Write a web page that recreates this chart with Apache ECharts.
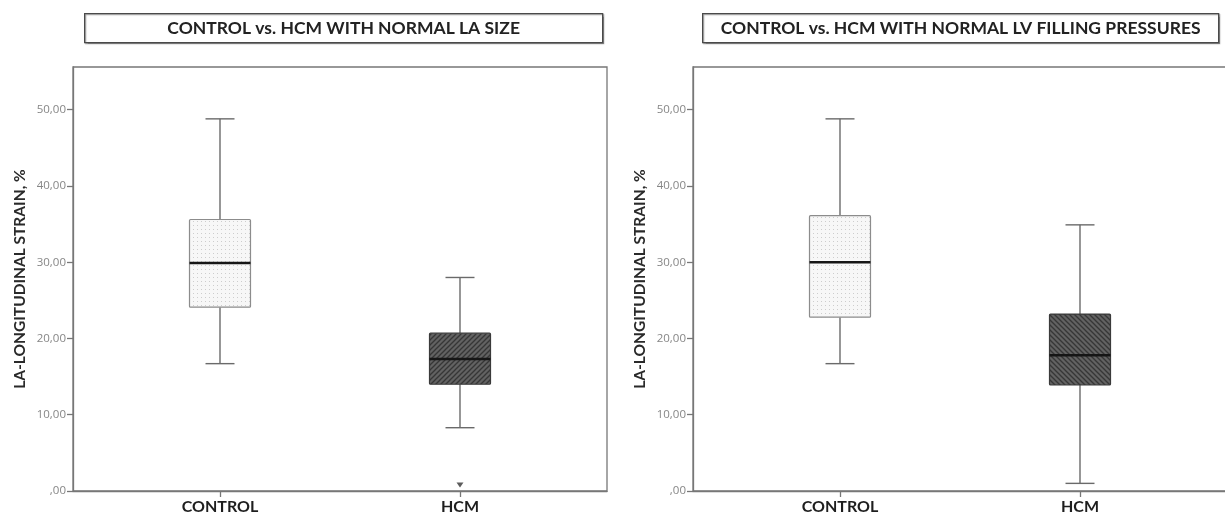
<!DOCTYPE html>
<html>
<head>
<meta charset="utf-8">
<script src="https://cdn.jsdelivr.net/npm/echarts@6/dist/echarts.min.js"></script>
<style>
  html, body { margin: 0; padding: 0; background: #fff; }
  #chart { width: 1225px; height: 519px; }
</style>
</head>
<body>
<div id="chart"></div>
<script>
var categories = ['CONTROL', 'HCM'];
var panelTitles = ['CONTROL vs. HCM WITH NORMAL LA SIZE', 'CONTROL vs. HCM WITH NORMAL LV FILLING PRESSURES'];
var yName = 'LA-LONGITUDINAL STRAIN, %';
var yTicks = [0, 10, 20, 30, 40, 50];
// [min, Q1, median, Q3, max] per category
var laSizeBoxes = [[16.7, 24.1, 29.9, 35.6, 48.8], [8.3, 14.0, 17.3, 20.7, 28.0]];
var lvPressureBoxes = [[16.7, 22.8, 30.0, 36.1, 48.8], [1.0, 13.9, 17.8, 23.2, 34.9]];
// [category, value]
var laSizeOutliers = [['HCM', 0.8]];
var lvPressureOutliers = [];

(function() {
  var frame = '#777777';
  var font = 'Lato';

  function makePattern(w, h, bg, draw) {
    var c = document.createElement('canvas');
    c.width = w; c.height = h;
    var g = c.getContext('2d');
    g.fillStyle = bg;
    g.fillRect(0, 0, w, h);
    draw(g);
    return { image: c, repeat: 'repeat' };
  }
  var dots = makePattern(4, 4, '#f7f7f7', function(g) {
    g.fillStyle = '#cdcdcd';
    g.fillRect(1, 1, 1, 1);
  });
  function hatch(dir) {
    return makePattern(5, 5, '#626262', function(g) {
      g.strokeStyle = '#363636';
      g.lineWidth = 1.3;
      g.beginPath();
      if (dir > 0) {
        g.moveTo(-1, 6); g.lineTo(6, -1);
        g.moveTo(-1, 1); g.lineTo(1, -1);
        g.moveTo(4, 6); g.lineTo(6, 4);
      } else {
        g.moveTo(-1, -1); g.lineTo(6, 6);
        g.moveTo(-1, 4); g.lineTo(1, 6);
        g.moveTo(4, -1); g.lineTo(6, 1);
      }
      g.stroke();
    });
  }
  var hatches = [hatch(1), hatch(-1)];

  function line(x1, y1, x2, y2, color, width) {
    return { type: 'line', shape: { x1: x1, y1: y1, x2: x2, y2: y2 },
      style: { stroke: color, lineWidth: width } };
  }

  function boxRenderer(panel) {
    return function(params, api) {
      var x = api.value(0);
      var pMin = api.coord([x, api.value(1)]);
      var pQ1 = api.coord([x, api.value(2)]);
      var pMed = api.coord([x, api.value(3)]);
      var pQ3 = api.coord([x, api.value(4)]);
      var pMax = api.coord([x, api.value(5)]);
      var cx = pMed[0], half = 30.5, cap = 14.5;
      var dark = params.dataIndex === 1;
      var wc = '#6a6a6a';
      return {
        type: 'group',
        children: [
          line(cx, pMax[1], cx, pQ3[1], wc, 1.4),
          line(cx, pQ1[1], cx, pMin[1], wc, 1.4),
          line(cx - cap, pMax[1], cx + cap, pMax[1], wc, 1.4),
          line(cx - cap, pMin[1], cx + cap, pMin[1], wc, 1.4),
          {
            type: 'rect',
            shape: { x: cx - half, y: pQ3[1], width: half * 2, height: pQ1[1] - pQ3[1], r: 1 },
            style: { fill: dark ? hatches[panel] : dots, stroke: dark ? '#3a3a3a' : '#8c8c8c', lineWidth: 1.2 }
          },
          line(cx - half, pMed[1], cx + half, pMed[1], '#151515', 2.6)
        ]
      };
    };
  }

  function yLabel(v) {
    return v === 0 ? ',00' : v.toFixed(2).replace('.', ',');
  }

  // both panels share 240 px per category step; the right one runs off the page edge
  var panels = [
    { left: 73, width: 534, xMax: 2.6125, boxes: laSizeBoxes, outliers: laSizeOutliers, titleLeft: 84, titleWidth: 518 },
    { left: 693, width: 546, xMax: 2.6625, boxes: lvPressureBoxes, outliers: lvPressureOutliers, titleLeft: 702, titleWidth: 516 }
  ];

  var grids = [], xAxes = [], yAxes = [], series = [], graphics = [];
  panels.forEach(function(p, i) {
    grids.push({ left: p.left, top: 67, width: p.width, height: 424, show: true,
      outerBoundsMode: 'none', containLabel: false,
      borderColor: frame, borderWidth: 1.3, backgroundColor: 'transparent' });
    xAxes.push({
      gridIndex: i, type: 'value', min: 0.3875, max: p.xMax,
      axisLine: { show: true, lineStyle: { color: frame, width: 1.3 } },
      axisTick: { show: true, length: 6, customValues: [1, 2], lineStyle: { color: frame, width: 1.3 } },
      axisLabel: { customValues: [1, 2], margin: 8, fontFamily: font, fontWeight: 'bold', fontSize: 16, color: '#1e1e1e',
        formatter: function(v) { return categories[Math.round(v) - 1] || ''; } },
      splitLine: { show: false }
    });
    yAxes.push({
      gridIndex: i, type: 'value', min: 0, max: 55.6, interval: 10,
      name: yName, nameLocation: 'middle', nameGap: 45,
      nameTextStyle: { fontFamily: font, fontWeight: 'bold', fontSize: 15.5, color: '#2a2a2a' },
      axisLine: { show: true, lineStyle: { color: frame, width: 1.3 } },
      axisTick: { show: true, length: 6, customValues: yTicks, lineStyle: { color: frame, width: 1.3 } },
      axisLabel: { customValues: yTicks, margin: 7, fontFamily: 'Open Sans', fontSize: 11.5, color: '#868686', formatter: yLabel },
      splitLine: { show: false }
    });
    series.push({
      type: 'custom', xAxisIndex: i, yAxisIndex: i,
      renderItem: boxRenderer(i),
      encode: { x: 0, y: [1, 2, 3, 4, 5] },
      data: p.boxes.map(function(b, k) { return [k + 1].concat(b); })
    });
    series.push({
      type: 'scatter', xAxisIndex: i, yAxisIndex: i,
      symbol: 'triangle', symbolRotate: 180, symbolSize: [7, 5],
      itemStyle: { color: '#333' },
      data: p.outliers.map(function(o) { return [categories.indexOf(o[0]) + 1, o[1]]; })
    });
    graphics.push({
      type: 'group', left: p.titleLeft, top: 13,
      children: [
        { type: 'rect', shape: { x: 0, y: 0, width: p.titleWidth, height: 29 },
          style: { fill: '#fff', stroke: '#4a4a4a', lineWidth: 1.3,
            shadowColor: 'rgba(0,0,0,0.3)', shadowOffsetX: 1, shadowOffsetY: 1, shadowBlur: 1 } },
        { type: 'text', x: p.titleWidth / 2, y: 15,
          style: { text: panelTitles[i], align: 'center', verticalAlign: 'middle',
            font: 'bold 17.5px ' + font, fill: '#222' } }
      ]
    });
  });

  var chart = echarts.init(document.getElementById('chart'));
  chart.setOption({
    animation: false,
    backgroundColor: '#fff',
    grid: grids,
    xAxis: xAxes,
    yAxis: yAxes,
    series: series,
    graphic: graphics
  });
  window.addEventListener('resize', function() { chart.resize(); });
})();
</script>
</body>
</html>
